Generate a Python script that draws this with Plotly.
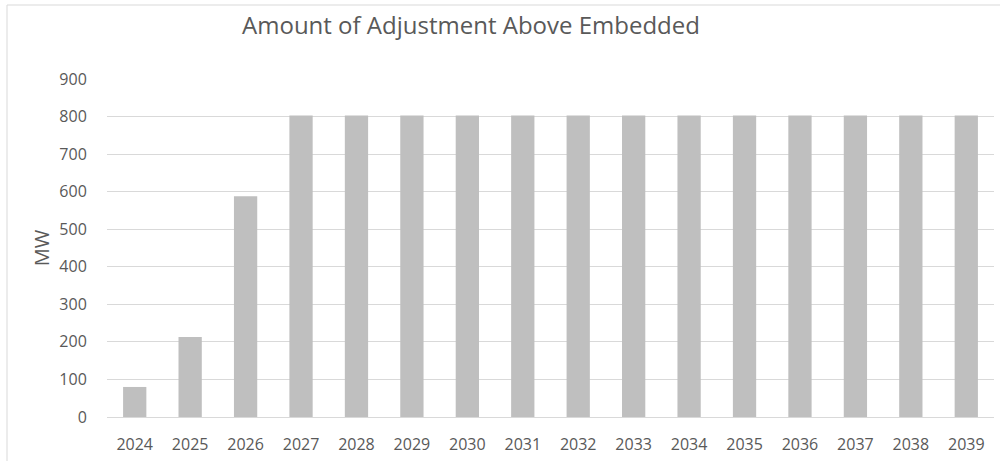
import plotly.graph_objects as go

# Annual adjustment above embedded level (MW)
years = ["2024", "2025", "2026", "2027", "2028", "2029", "2030", "2031",
         "2032", "2033", "2034", "2035", "2036", "2037", "2038", "2039"]
adjustment_mw = [80, 213, 588, 803, 803, 803, 803, 803,
                 803, 803, 803, 803, 803, 803, 803, 803]
y_ticks = [0, 100, 200, 300, 400, 500, 600, 700, 800, 900]

W, H = 1000, 461
ML, MR, MT, MB = 107, 6, 79, 44
PW = W - ML - MR
PH = H - MT - MB

def px_x(px):
    return (px - ML) / PW

def px_y(py):
    return (H - MB - py) / PH

font_family = "Open Sans, Liberation Sans, sans-serif"
text_color = "#595959"

fig = go.Figure(
    go.Bar(
        x=years,
        y=adjustment_mw,
        marker=dict(color="#BFBFBF", line=dict(width=0)),
        hoverinfo="x+y",
    )
)

fig.update_layout(
    width=W,
    height=H,
    margin=dict(l=ML, r=MR, t=MT, b=MB),
    paper_bgcolor="white",
    plot_bgcolor="white",
    bargap=0.58,
    showlegend=False,
    font=dict(family=font_family, color=text_color),
    title=dict(
        text="Amount of Adjustment Above Embedded",
        font=dict(size=24, color=text_color, family=font_family),
        x=471 / W,
        xanchor="center",
        y=1 - 26 / H,
        yanchor="middle",
    ),
    xaxis=dict(
        type="category",
        tickfont=dict(size=16, color=text_color),
        showgrid=False,
        showline=False,
        ticks="outside",
        ticklen=13,
        tickcolor="rgba(0,0,0,0)",
    ),
    yaxis=dict(
        range=[0, 900],
        tickvals=y_ticks,
        tickfont=dict(size=16, color=text_color),
        showgrid=True,
        gridcolor="#D9D9D9",
        gridwidth=1,
        zeroline=True,
        zerolinecolor="#D9D9D9",
        zerolinewidth=1,
        showline=False,
        ticks="outside",
        ticklen=16,
        tickcolor="rgba(0,0,0,0)",
        title=dict(text="MW", font=dict(size=20, color=text_color), standoff=4),
    ),
    shapes=[
        # outer chart frame (top and left edges)
        dict(type="line", xref="paper", yref="paper",
             x0=px_x(7), x1=px_x(1000), y0=px_y(5), y1=px_y(5),
             line=dict(color="#D9D9D9", width=1)),
        dict(type="line", xref="paper", yref="paper",
             x0=px_x(7), x1=px_x(7), y0=px_y(5), y1=px_y(461),
             line=dict(color="#D9D9D9", width=1)),
    ],
)

fig.write_html("out.html")
